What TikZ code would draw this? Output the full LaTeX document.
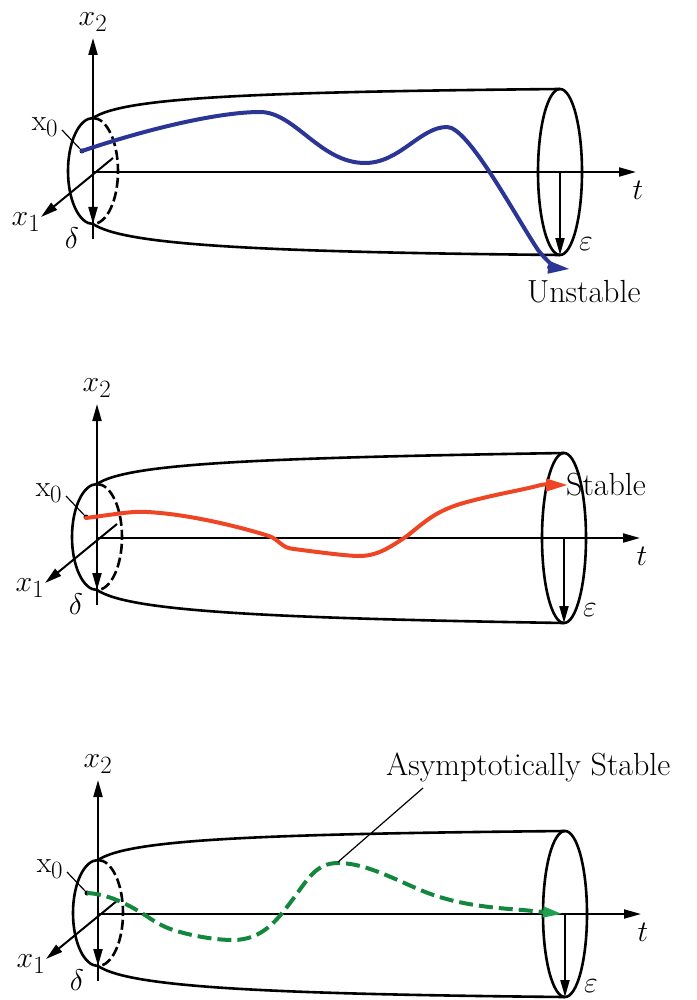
\documentclass[tikz,border=0pt]{standalone}
\usetikzlibrary{arrows.meta}
\definecolor{trajblue}{RGB}{43,53,149}
\definecolor{trajred}{RGB}{238,70,36}
\definecolor{trajgreen}{RGB}{20,135,62}
\definecolor{tipgreen}{RGB}{32,160,80}
\newcommand\mlab[1]{\scalebox{1.2}{#1}}
\tikzset{
  axis/.style={line width=2pt, -{Triangle[length=17pt,width=9pt]}},
  tube/.style={line width=2.6pt},
  traj/.style={line width=4pt, line cap=round},
  lbl/.style={font=\fontsize{24.88}{28}\selectfont, inner sep=0pt},
  txt/.style={font=\fontsize{32}{36}\selectfont, inner sep=0pt},
  leader/.style={line width=1.2pt},
  dotnode/.style={circle, fill, inner sep=0pt, minimum size=5pt},
}
\newcommand\tubepanel[4]{%
\begin{scope}[shift={(#2,#3)}]
  \coordinate (#1o) at (0,0);
  \coordinate (#1x2b) at (0,67);
  \coordinate (#1x2t) at (0,-134);
  \coordinate (#1x1b) at (20,-14);
  \coordinate (#1x1t) at (-52,45);
  \coordinate (#1ttip) at (543,0);
  \coordinate (#1ltop) at (0,-54);
  \coordinate (#1lbot) at (0,52);
  \coordinate (#1rc) at (467,0);
  \coordinate (#1rtop) at (467,-#4);
  \coordinate (#1rbot) at (467,#4);
  % tube
  \draw[tube] (#1ltop) .. controls (30,-74) and (150,-80) .. (#1rtop);
  \draw[tube] (#1lbot) .. controls (30,72) and (150,80) .. (#1rbot);
  \draw[tube] (#1rc) ellipse [x radius=22, y radius=#4];
  \draw[tube] (#1ltop) arc[start angle=270, end angle=90, x radius=25, y radius=53];
  \draw[tube, dash pattern=on 10pt off 4pt] (#1ltop) arc[start angle=-90, end angle=90, x radius=25, y radius=53];
  % axes
  \draw[axis] (#1x2b) -- (#1x2t);
  \draw[axis] (#1x1b) -- (#1x1t);
  \draw[axis] (#1o) -- (#1ttip);
  \draw[axis] (#1o) -- (#1lbot);
  \draw[axis] (#1rc) -- (#1rbot);
  % labels
  \node[lbl] (#1x2lab) at (0,-150) {\mlab{$x_2$}};
  \node[lbl] (#1x1lab) at (-67,50) {\mlab{$x_1$}};
  \node[lbl] (#1dlab) at (-21,66) {\mlab{$\delta$}};
  \node[lbl] (#1tlab) at (545,18) {\mlab{$t$}};
  \node[lbl] (#1elab) at (493,72) {\mlab{$\varepsilon$}};
  \node[lbl] (#1x0lab) at (-48,-45) {\mlab{x$_0$}};
  \node[dotnode] (#1dot) at (-11,-21) {};
  \coordinate (#1ls) at (-31,-42);
  \draw[leader] (#1ls) -- (#1dot);
\end{scope}}

\begin{document}
\begin{tikzpicture}[x=1pt,y=-1pt]
\useasboundingbox (0,0) rectangle (696,1000);

% ---------- panel 1: unstable ----------
\tubepanel{a}{93}{172}{83}
\begin{scope}[shift={(93,172)}]
  \draw[traj, trajblue, -{Triangle[length=22pt,width=12pt]}]
    (-11,-21) .. controls (57,-44) and (127,-60) .. (167,-60)
    .. controls (202,-60) and (227,-9) .. (272,-9)
    .. controls (307,-9) and (327,-45) .. (354,-45)
    .. controls (375,-45) and (420,40) .. (445,78)
    .. controls (456,92) and (465,96) .. (477,97);
\end{scope}
\node[txt, anchor=base west] (unstable) at (527,302) {Unstable};

% ---------- panel 2: stable ----------
\tubepanel{b}{97}{538}{85}
\begin{scope}[shift={(97,538)}]
  \draw[traj, trajred, -{Triangle[length=22pt,width=12pt]}]
    (-11,-20) .. controls (20,-24) and (35,-27) .. (50,-26)
    .. controls (90,-24) and (140,-12) .. (172,-2)
    .. controls (183,2) and (184,10) .. (197,11)
    .. controls (220,14) and (250,18) .. (262,18)
    .. controls (280,18) and (292,10) .. (310,-2)
    .. controls (330,-18) and (340,-28) .. (370,-36)
    .. controls (400,-44) and (420,-47) .. (440,-52)
    .. controls (450,-55) and (455,-53) .. (471,-53);
\end{scope}
\node[txt, anchor=base west] (stable) at (566,495) {Stable};

% ---------- panel 3: asymptotically stable ----------
\begin{scope}[shift={(98,914)}]
  \coordinate (cpeak) at (240,-52);
\end{scope}
\tubepanel{c}{98}{914}{83}
\begin{scope}[shift={(98,914)}]
  \draw[traj, trajgreen, line cap=butt, dash pattern=on 14pt off 6pt, -{Triangle[length=20pt,width=10pt,color=tipgreen]}]
    (-11,-21) .. controls (10,-20) and (30,-10) .. (50,3)
    .. controls (60,10) and (70,15) .. (82,18)
    .. controls (100,23) and (120,26) .. (135,26)
    .. controls (165,26) and (180,5) .. (195,-15)
    .. controls (210,-35) and (218,-51) .. (240,-51)
    .. controls (265,-51) and (290,-38) .. (320,-25)
    .. controls (350,-12) and (380,-7) .. (425,-4)
    .. controls (445,-2) and (455,-1) .. (465,0);
\end{scope}
\node[txt, anchor=base west] (asym) at (386,775) {Asymptotically Stable};
\coordinate (asl) at (423,788);
\draw[leader] (asl) -- (cpeak);
\end{tikzpicture}
\end{document}
